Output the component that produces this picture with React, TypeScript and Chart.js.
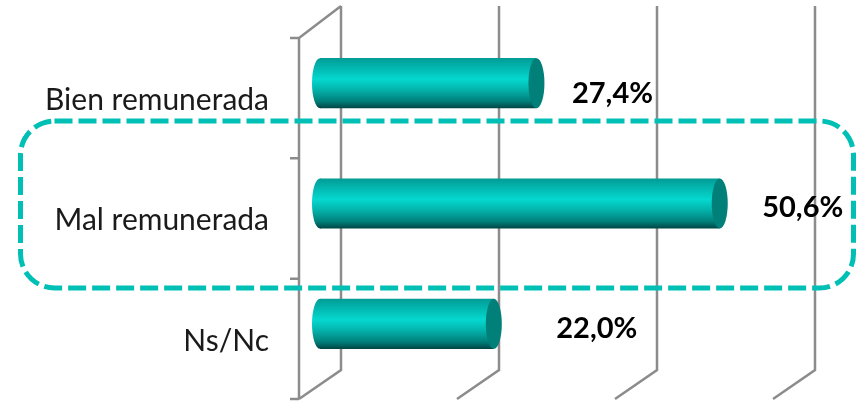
import React, { useEffect, useRef } from "react";
import { Chart, registerables } from "chart.js";

Chart.register(...registerables);

const categories = ["Bien remunerada", "Mal remunerada", "Ns/Nc"];
const shares = [27.4, 50.6, 22.0];
const axisTicks = [0, 20, 40, 60];

const FONT = "Lato, 'Open Sans', sans-serif";
const DEPTH_X = 21;
const DEPTH_Y = 15;
const BAR_H = 50;
const CAP_RX = 8;
const LINE = "#8c8c8c";
const labelGap = [68, 75, 95];
const labelDrop = [10, 4, 5];

function barGradient(ctx: CanvasRenderingContext2D, cy: number) {
  const g = ctx.createLinearGradient(0, cy - BAR_H / 2, 0, cy + BAR_H / 2);
  g.addColorStop(0, "#019C95");
  g.addColorStop(0.12, "#02ADA6");
  g.addColorStop(0.42, "#05D8CF");
  g.addColorStop(0.62, "#03B5AD");
  g.addColorStop(0.86, "#017F7A");
  g.addColorStop(1, "#004644");
  return g;
}

const wallPlugin = {
  id: "wall",
  beforeDatasetsDraw(chart: any) {
    const { ctx, scales } = chart;
    const x = scales.x;
    const y = scales.y;
    const front = x.getPixelForValue(0) - DEPTH_X;
    const top = y.top + DEPTH_Y;
    const bottom = y.bottom + DEPTH_Y;
    ctx.save();
    ctx.strokeStyle = LINE;
    ctx.lineWidth = 2.5;
    ctx.beginPath();
    ctx.moveTo(front, top);
    ctx.lineTo(front, bottom);
    ctx.moveTo(front - 9, top);
    ctx.lineTo(front, top);
    ctx.lineTo(front + 2 * DEPTH_X, top - 32);
    const n = categories.length;
    for (let i = 1; i <= n; i++) {
      const ty = top + ((bottom - top) * i) / n;
      ctx.moveTo(front - 9, ty);
      ctx.lineTo(front, ty);
    }
    axisTicks.forEach((v) => {
      const c = x.getPixelForValue(v);
      ctx.moveTo(c + DEPTH_X, top - 32);
      ctx.lineTo(c + DEPTH_X, bottom - 29);
      ctx.lineTo(c - DEPTH_X, bottom);
    });
    ctx.stroke();
    ctx.restore();
  },
};

const capPlugin = {
  id: "caps",
  afterDatasetsDraw(chart: any) {
    const { ctx } = chart;
    chart.getDatasetMeta(0).data.forEach((bar: any) => {
      ctx.save();
      ctx.fillStyle = barGradient(ctx, bar.y);
      ctx.beginPath();
      ctx.ellipse(bar.base, bar.y, CAP_RX, BAR_H / 2, 0, 0, Math.PI * 2);
      ctx.fill();
      ctx.fillStyle = "#017F79";
      ctx.beginPath();
      ctx.ellipse(bar.x, bar.y, CAP_RX, BAR_H / 2, 0, 0, Math.PI * 2);
      ctx.fill();
      ctx.restore();
    });
  },
};

const labelPlugin = {
  id: "valueLabels",
  afterDraw(chart: any) {
    const { ctx } = chart;
    ctx.save();
    ctx.font = `bold 29px ${FONT}`;
    ctx.fillStyle = "#000";
    ctx.textAlign = "center";
    ctx.textBaseline = "middle";
    chart.getDatasetMeta(0).data.forEach((bar: any, i: number) => {
      const text = shares[i].toFixed(1).replace(".", ",") + "%";
      ctx.fillText(text, bar.x + CAP_RX + labelGap[i], bar.y + labelDrop[i]);
    });
    ctx.restore();
  },
};

const framePlugin = {
  id: "highlightFrame",
  afterDraw(chart: any) {
    const { ctx } = chart;
    ctx.save();
    ctx.strokeStyle = "#00BFB5";
    ctx.lineWidth = 5;
    ctx.setLineDash([18, 6]);
    ctx.beginPath();
    ctx.roundRect(20.5, 121, 833, 167, 34);
    ctx.stroke();
    ctx.restore();
  },
};

export default function App() {
  const ref = useRef<HTMLCanvasElement>(null);
  useEffect(() => {
    const chart = new Chart(ref.current!, {
      type: "bar",
      data: {
        labels: categories,
        datasets: [
          {
            data: shares,
            barPercentage: BAR_H / 120,
            categoryPercentage: 1,
            borderWidth: 0,
            backgroundColor: (c: any) => {
              const y = c.chart.scales.y;
              const cy = y ? y.getPixelForValue(c.dataIndex) : NaN;
              return Number.isFinite(cy) ? barGradient(c.chart.ctx, cy) : "#03B5AD";
            },
          },
        ],
      },
      options: {
        indexAxis: "y",
        responsive: false,
        animation: false,
        layout: { autoPadding: false, padding: { left: 0, right: 71, top: 23, bottom: 9 } },
        plugins: { legend: { display: false }, tooltip: { enabled: false } },
        scales: {
          x: {
            type: "linear",
            min: 0,
            max: 60,
            ticks: { display: false, stepSize: 20 },
            grid: { display: false },
            border: { display: false },
          },
          y: {
            type: "category",
            afterFit: (s: any) => {
              s.width = 320;
              s.paddingTop = 0;
              s.paddingBottom = 0;
            },
            ticks: {
              padding: 51,
              labelOffset: 17,
              color: "#1a1a1a",
              font: { family: FONT, size: 30 },
            },
            grid: { display: false, drawTicks: false },
            border: { display: false },
          },
        },
      },
      plugins: [wallPlugin, capPlugin, labelPlugin, framePlugin],
    } as any);
    return () => chart.destroy();
  }, []);
  return (
    <canvas
      ref={ref}
      width={865}
      height={401}
      style={{ position: "fixed", left: 0, top: 0, width: 865, height: 401 }}
    />
  );
}
